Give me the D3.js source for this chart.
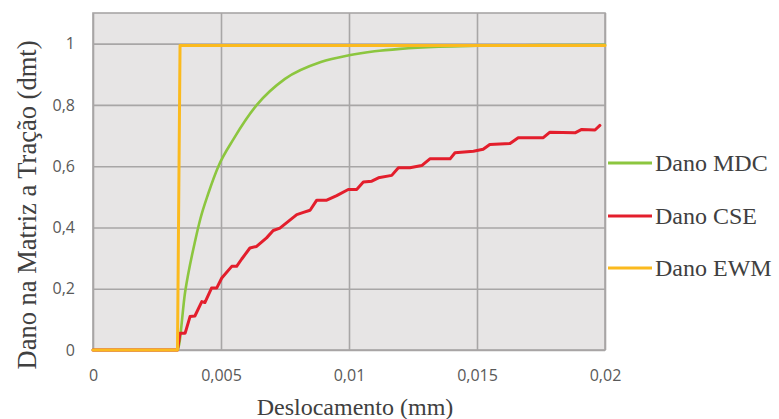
<!DOCTYPE html>
<html lang="pt">
<head>
<meta charset="UTF-8">
<title>Dano na Matriz a Tração</title>
<script src="https://cdnjs.cloudflare.com/ajax/libs/d3/7.8.5/d3.min.js"></script>
<style>
    body {
        margin: 0;
        background: #ffffff;
    }
    svg {
        display: block;
    }
    .tick text {
        font-family: 'Open Sans', sans-serif;
        font-size: 16px;
        fill: #595959;
    }
    .axis-title, .legend text {
        font-family: 'Liberation Serif', 'Times New Roman', serif;
        font-size: 24px;
        fill: #404040;
    }
    .y-title {
        font-size: 26.5px;
    }
</style>
</head>
<body>
<div id="chart"></div>

<script>
// values: displacement (mm) -> damage (dmt)
const seriesNames = ["Dano MDC", "Dano CSE", "Dano EWM"];
const seriesColors = ["#8cc63f", "#e31e2c", "#fbba1e"];

const mdcX = [0, 0.0033, 0.0036, 0.0040, 0.0042, 0.0045, 0.0049, 0.0055, 0.0064, 0.0075, 0.0089, 0.0100, 0.0110, 0.0120, 0.0135, 0.0150, 0.0175, 0.0200];
const mdcY = [0, 0, 0.19, 0.36, 0.43, 0.51, 0.60, 0.69, 0.80, 0.885, 0.94, 0.962, 0.975, 0.983, 0.99, 0.993, 0.995, 0.996];

const cseX = [0, 0.0033, 0.0034, 0.0036, 0.00379, 0.00398, 0.00425, 0.00437, 0.00463, 0.00483, 0.00503, 0.00542, 0.00561, 0.00581, 0.00613, 0.00639, 0.00678, 0.00704, 0.0073, 0.00763, 0.00796, 0.00822, 0.00848, 0.00874, 0.00913, 0.00952, 0.00997, 0.0103, 0.01056, 0.01089, 0.01115, 0.01167, 0.01193, 0.01238, 0.01284, 0.01316, 0.01395, 0.01414, 0.01486, 0.01524, 0.0155, 0.01629, 0.01661, 0.01759, 0.01785, 0.01883, 0.01909, 0.01961, 0.0198];
const cseY = [0, 0, 0.055, 0.055, 0.109, 0.111, 0.158, 0.155, 0.202, 0.202, 0.235, 0.273, 0.273, 0.297, 0.333, 0.338, 0.366, 0.39, 0.398, 0.42, 0.442, 0.449, 0.456, 0.489, 0.489, 0.504, 0.524, 0.524, 0.548, 0.551, 0.562, 0.57, 0.595, 0.595, 0.602, 0.624, 0.624, 0.644, 0.649, 0.655, 0.671, 0.674, 0.693, 0.693, 0.711, 0.709, 0.72, 0.718, 0.733];

const ewmX = [0, 0.0033, 0.0034, 0.0200];
const ewmY = [0, 0, 0.994, 0.994];

const xTicks = [0, 0.005, 0.01, 0.015, 0.02];
const yTicks = [0, 0.2, 0.4, 0.6, 0.8, 1];

const width = 779, height = 419;
const plot = {left: 93, right: 605, top: 13, bottom: 350};

const svg = d3.select("#chart").append("svg")
    .attr("width", width)
    .attr("height", height);

const x = d3.scaleLinear().domain([0, 0.02]).range([plot.left, plot.right]);
const y = d3.scaleLinear().domain([0, 1.1]).range([plot.bottom, plot.top]);

const fmt = d => String(d).replace(".", ",");

// plot background
svg.append("rect")
    .attr("x", plot.left).attr("y", plot.top)
    .attr("width", plot.right - plot.left)
    .attr("height", plot.bottom - plot.top)
    .attr("fill", "#e7e5e5");

// grid + tick labels
const xAxis = svg.append("g")
    .attr("transform", `translate(0,${plot.bottom})`)
    .call(d3.axisBottom(x).tickValues(xTicks).tickFormat(fmt)
        .tickSize(-(plot.bottom - plot.top)).tickPadding(20));
xAxis.select(".domain").remove();
xAxis.selectAll(".tick line").attr("stroke", "#a8a6a6").attr("stroke-width", 1.6);

const yAxis = svg.append("g")
    .attr("transform", `translate(${plot.left},0)`)
    .call(d3.axisLeft(y).tickValues(yTicks).tickFormat(fmt)
        .tickSize(-(plot.right - plot.left)).tickPadding(18));
yAxis.select(".domain").remove();
yAxis.selectAll(".tick line").attr("stroke", "#a8a6a6").attr("stroke-width", 1.6);

// plot border
svg.append("rect")
    .attr("x", plot.left).attr("y", plot.top)
    .attr("width", plot.right - plot.left)
    .attr("height", plot.bottom - plot.top)
    .attr("fill", "none")
    .attr("stroke", "#a8a6a6")
    .attr("stroke-width", 1.6);

// series
const toPts = (xs, ys) => xs.map((v, i) => [v, ys[i]]);
const series = [
    {pts: toPts(mdcX, mdcY), curve: d3.curveMonotoneX, w: 2.6},
    {pts: toPts(cseX, cseY), curve: d3.curveLinear, w: 3},
    {pts: toPts(ewmX, ewmY), curve: d3.curveLinear, w: 3}
];

series.forEach((s, i) => {
    const line = d3.line().x(d => x(d[0])).y(d => y(d[1])).curve(s.curve);
    svg.append("path")
        .datum(s.pts)
        .attr("d", line)
        .attr("fill", "none")
        .attr("stroke", seriesColors[i])
        .attr("stroke-width", s.w)
        .attr("stroke-linejoin", "round")
        .attr("stroke-linecap", "round");
});

// axis titles
svg.append("text")
    .attr("class", "axis-title")
    .attr("x", 355).attr("y", 415)
    .attr("text-anchor", "middle")
    .text("Deslocamento (mm)");

svg.append("text")
    .attr("class", "axis-title y-title")
    .attr("transform", "translate(36,205) rotate(-90)")
    .attr("text-anchor", "middle")
    .text("Dano na Matriz a Tração (dmt)");

// legend
const legendY = [163, 216, 268];
const legend = svg.append("g").attr("class", "legend");
seriesNames.forEach((name, i) => {
    legend.append("line")
        .attr("x1", 608).attr("x2", 652)
        .attr("y1", legendY[i]).attr("y2", legendY[i])
        .attr("stroke", seriesColors[i])
        .attr("stroke-width", 3);
    legend.append("text")
        .attr("x", 655).attr("y", legendY[i])
        .attr("dy", "0.35em")
        .text(name);
});
</script>
</body>
</html>
